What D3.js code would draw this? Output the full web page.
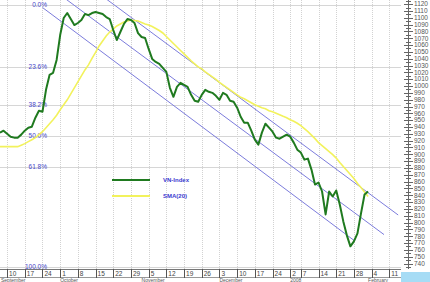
<!DOCTYPE html>
<html>
<head>
<meta charset="utf-8">
<script src="https://cdn.jsdelivr.net/npm/d3@7"></script>
<style>
body { margin: 0; background: #fff; }
svg { display: block; font-family: "Liberation Sans", Arial, sans-serif; }
</style>
</head>
<body>
<svg width="430" height="282"></svg>
<script>
// trading day index of the first value (day 0 = 10 Sep 2007)
var firstDay = -2;

var vnIndex = [931.7, 934.6, 930.2, 925.8, 924.4, 924.4, 928.8, 934.6, 939.0, 940.4,
  953.6, 963.8, 962.3, 994.4, 1016.3, 1019.3, 1038.2, 1074.7, 1099.6, 1106.9,
  1098.1, 1089.3, 1092.3, 1096.6, 1105.4, 1103.9, 1106.9, 1108.3, 1106.9, 1105.4,
  1101.0, 1098.1, 1082.0, 1067.4, 1079.1, 1090.8, 1098.1, 1096.6, 1092.3, 1077.6,
  1071.8, 1070.3, 1054.3, 1039.7, 1035.3, 1032.4, 1026.6, 1020.7, 997.4, 984.2,
  998.8, 1004.6, 1001.7, 998.8, 987.1, 978.4, 976.9, 987.1, 994.4, 991.5,
  990.0, 985.7, 979.8, 990.0, 987.1, 978.4, 976.9, 968.2, 955.0, 946.3,
  946.3, 934.6, 921.4, 914.2, 931.7, 944.8, 939.0, 933.1, 924.4, 922.9,
  925.8, 928.8, 925.8, 917.1, 906.8, 902.5, 892.2, 893.7, 877.6, 855.7,
  858.7, 845.5, 811.9, 845.5, 838.2, 847.0, 826.5, 801.7, 781.3, 765.2,
  772.5, 784.2, 813.4, 841.1, 845.5];

var sma20 = [911.2, 911.2, 911.2, 911.2, 911.2, 911.2, 913.4, 915.6, 918.5, 921.4,
  924.4, 928.8, 933.1, 939.0, 944.8, 950.6, 957.2, 965.2, 972.5, 979.8,
  988.6, 997.4, 1006.1, 1014.9, 1023.6, 1030.9, 1040.4, 1049.2, 1058.7, 1066.0,
  1073.3, 1079.1, 1083.5, 1087.9, 1090.8, 1093.7, 1095.2, 1096.6, 1095.9, 1095.2,
  1093.0, 1090.8, 1089.3, 1087.2, 1084.2, 1081.3, 1077.7, 1072.5, 1067.4, 1062.3,
  1057.2, 1052.1, 1047.0, 1041.9, 1036.8, 1032.4, 1028.0, 1025.1, 1020.7, 1017.1,
  1013.4, 1009.8, 1005.4, 1001.7, 998.1, 994.4, 990.8, 987.1, 983.5, 981.3,
  978.4, 975.5, 972.5, 970.3, 968.2, 966.7, 963.8, 962.3, 960.1, 958.0,
  955.7, 953.6, 950.6, 948.4, 945.5, 941.9, 937.5, 933.1, 928.0, 922.9,
  917.1, 912.7, 908.3, 903.9, 899.5, 894.4, 887.9, 882.0, 876.2, 870.3,
  864.5, 857.2, 851.4, 844.8, 838.2];

// week boxes on the date axis
var weekStarts = [0, 5, 10, 15, 20, 25, 30, 35, 40, 45, 50, 55, 60, 65, 70, 75, 80, 83, 88, 93, 98, 103, 108];
var weekLabels = ["10", "17", "24", "1", "8", "15", "22", "29", "5", "12", "19", "26", "3", "10", "17", "24", "2", "7", "14", "21", "28", "4", "11"];
var monthStarts = [-4, 15, 38, 60, 80, 102];
var monthLabels = ["September", "October", "November", "December", "2008", "February"];

// fibonacci retracement
var fibLevels = [0, 23.6, 38.2, 50, 61.8, 100];
var fibHigh = 1119, fibLow = 735;

// regression channel: [startDay, startValue, endDay, endValue]
var channelLines = [
  [10, 1196.6, 110.5, 811.1],
  [10, 1152.7, 106.5, 782.4],
  [10, 1115.0, 98, 774.0]
];

var seriesNames = ["VN-Index", "SMA(20)"];
var seriesColors = ["#1f7a1f", "#f2f25c"];

function init()
{
  var svg = d3.select("svg");
  var plotW = 401, plotH = 269;

  var x = d3.scaleLinear().domain([-2, 111.3]).range([0, plotW]);
  var y = d3.scaleLinear().domain([732, 1126]).range([plotH, 0]);

  svg.append("clipPath").attr("id", "plot")
    .append("rect").attr("x", 0).attr("y", 0).attr("width", plotW).attr("height", plotH);

  // vertical grid
  svg.append("g").selectAll("line")
    .data(weekStarts)
    .enter().append("line")
      .attr("x1", function (d) { return Math.round(x(d)) + 0.5; })
      .attr("x2", function (d) { return Math.round(x(d)) + 0.5; })
      .attr("y1", 0).attr("y2", plotH)
      .attr("stroke", "#d2d2d2")
      .attr("stroke-dasharray", "1,1");

  // fibonacci lines + labels
  var fibVal = function (p) { return fibHigh - (fibHigh - fibLow) * p / 100; };
  svg.append("g").selectAll("line")
    .data(fibLevels)
    .enter().append("line")
      .attr("x1", 0).attr("x2", plotW)
      .attr("y1", function (d) { return Math.round(y(fibVal(d))) + 0.5; })
      .attr("y2", function (d) { return Math.round(y(fibVal(d))) + 0.5; })
      .attr("stroke", "#d6d6d6");
  svg.append("g").selectAll("text")
    .data(fibLevels)
    .enter().append("text")
      .attr("x", 47)
      .attr("y", function (d) { return y(fibVal(d)) + 2; })
      .attr("text-anchor", "end")
      .attr("font-size", "6.5px")
      .attr("fill", "#4646c8")
      .text(function (d) { return d.toFixed(1) + "%"; });

  // channel
  svg.append("g").attr("clip-path", "url(#plot)")
    .selectAll("line")
    .data(channelLines)
    .enter().append("line")
      .attr("x1", function (d) { return x(d[0]); })
      .attr("y1", function (d) { return y(d[1]); })
      .attr("x2", function (d) { return x(d[2]); })
      .attr("y2", function (d) { return y(d[3]); })
      .attr("stroke", "#7c7cdc")
      .attr("stroke-width", 1);

  // series
  var line = d3.line()
    .x(function (d, i) { return x(firstDay + i); })
    .y(function (d) { return y(d); })
    .curve(d3.curveLinear);

  var series = svg.append("g").attr("clip-path", "url(#plot)");
  series.append("path")
    .attr("d", line(sma20))
    .attr("fill", "none")
    .attr("stroke", seriesColors[1])
    .attr("stroke-width", 1.6);
  series.append("path")
    .attr("d", line(vnIndex))
    .attr("fill", "none")
    .attr("stroke", seriesColors[0])
    .attr("stroke-width", 2)
    .attr("stroke-linejoin", "round");

  // legend
  var lg = svg.append("g").selectAll("g")
    .data(seriesNames)
    .enter().append("g")
      .attr("transform", function (d, i) { return "translate(112," + (180 + i * 16) + ")"; });
  lg.append("line")
    .attr("x1", 0).attr("x2", 38)
    .attr("stroke", function (d, i) { return seriesColors[i]; })
    .attr("stroke-width", 2);
  lg.append("text")
    .attr("x", 51).attr("y", 2)
    .attr("font-size", "6px")
    .attr("font-weight", "bold")
    .attr("fill", "#3a3ad0")
    .text(function (d) { return d; });

  // right value axis
  var yAxis = svg.append("g");
  yAxis.append("line")
    .attr("x1", 408.5).attr("x2", 408.5).attr("y1", 0).attr("y2", plotH)
    .attr("stroke", "#666");
  yAxis.selectAll("line.minor")
    .data(d3.range(735, 1126, 10))
    .enter().append("line")
      .attr("class", "minor")
      .attr("x1", 406).attr("x2", 411)
      .attr("y1", function (d) { return Math.round(y(d)) + 0.5; })
      .attr("y2", function (d) { return Math.round(y(d)) + 0.5; })
      .attr("stroke", "#666");
  yAxis.selectAll("line.major")
    .data(d3.range(740, 1121, 10))
    .enter().append("line")
      .attr("class", "major")
      .attr("x1", 404).attr("x2", 413)
      .attr("y1", function (d) { return Math.round(y(d)) + 0.5; })
      .attr("y2", function (d) { return Math.round(y(d)) + 0.5; })
      .attr("stroke", "#666");
  yAxis.selectAll("text")
    .data(d3.range(740, 1121, 10))
    .enter().append("text")
      .attr("x", 414)
      .attr("y", function (d) { return y(d) + 2.3; })
      .attr("font-size", "6.5px")
      .attr("fill", "#555")
      .text(function (d) { return d; });

  // date axis
  var xAxis = svg.append("g");
  xAxis.append("line")
    .attr("x1", 0).attr("x2", plotW).attr("y1", plotH + 0.5).attr("y2", plotH + 0.5)
    .attr("stroke", "#777");
  xAxis.append("line")
    .attr("x1", 0).attr("x2", plotW).attr("y1", 277.5).attr("y2", 277.5)
    .attr("stroke", "#999");
  xAxis.selectAll("line.sep")
    .data(weekStarts)
    .enter().append("line")
      .attr("class", "sep")
      .attr("x1", function (d) { return Math.round(x(d)) + 0.5; })
      .attr("x2", function (d) { return Math.round(x(d)) + 0.5; })
      .attr("y1", plotH).attr("y2", 278)
      .attr("stroke", "#555");
  xAxis.selectAll("text.day")
    .data(weekLabels)
    .enter().append("text")
      .attr("class", "day")
      .attr("x", function (d, i) { return x(weekStarts[i]) + 2; })
      .attr("y", 276)
      .attr("font-size", "6.5px")
      .attr("fill", "#444")
      .text(function (d) { return d; });
  xAxis.selectAll("text.month")
    .data(monthLabels)
    .enter().append("text")
      .attr("class", "month")
      .attr("x", function (d, i) { return Math.max(1, x(monthStarts[i])); })
      .attr("y", 281.8)
      .attr("font-size", "5px")
      .attr("fill", "#555")
      .text(function (d) { return d; });

  svg.append("rect")
    .attr("x", 401).attr("y", 272).attr("width", 29).attr("height", 10)
    .attr("fill", "#a6dcf5");
}
window.onload = init;
</script>
</body>
</html>
